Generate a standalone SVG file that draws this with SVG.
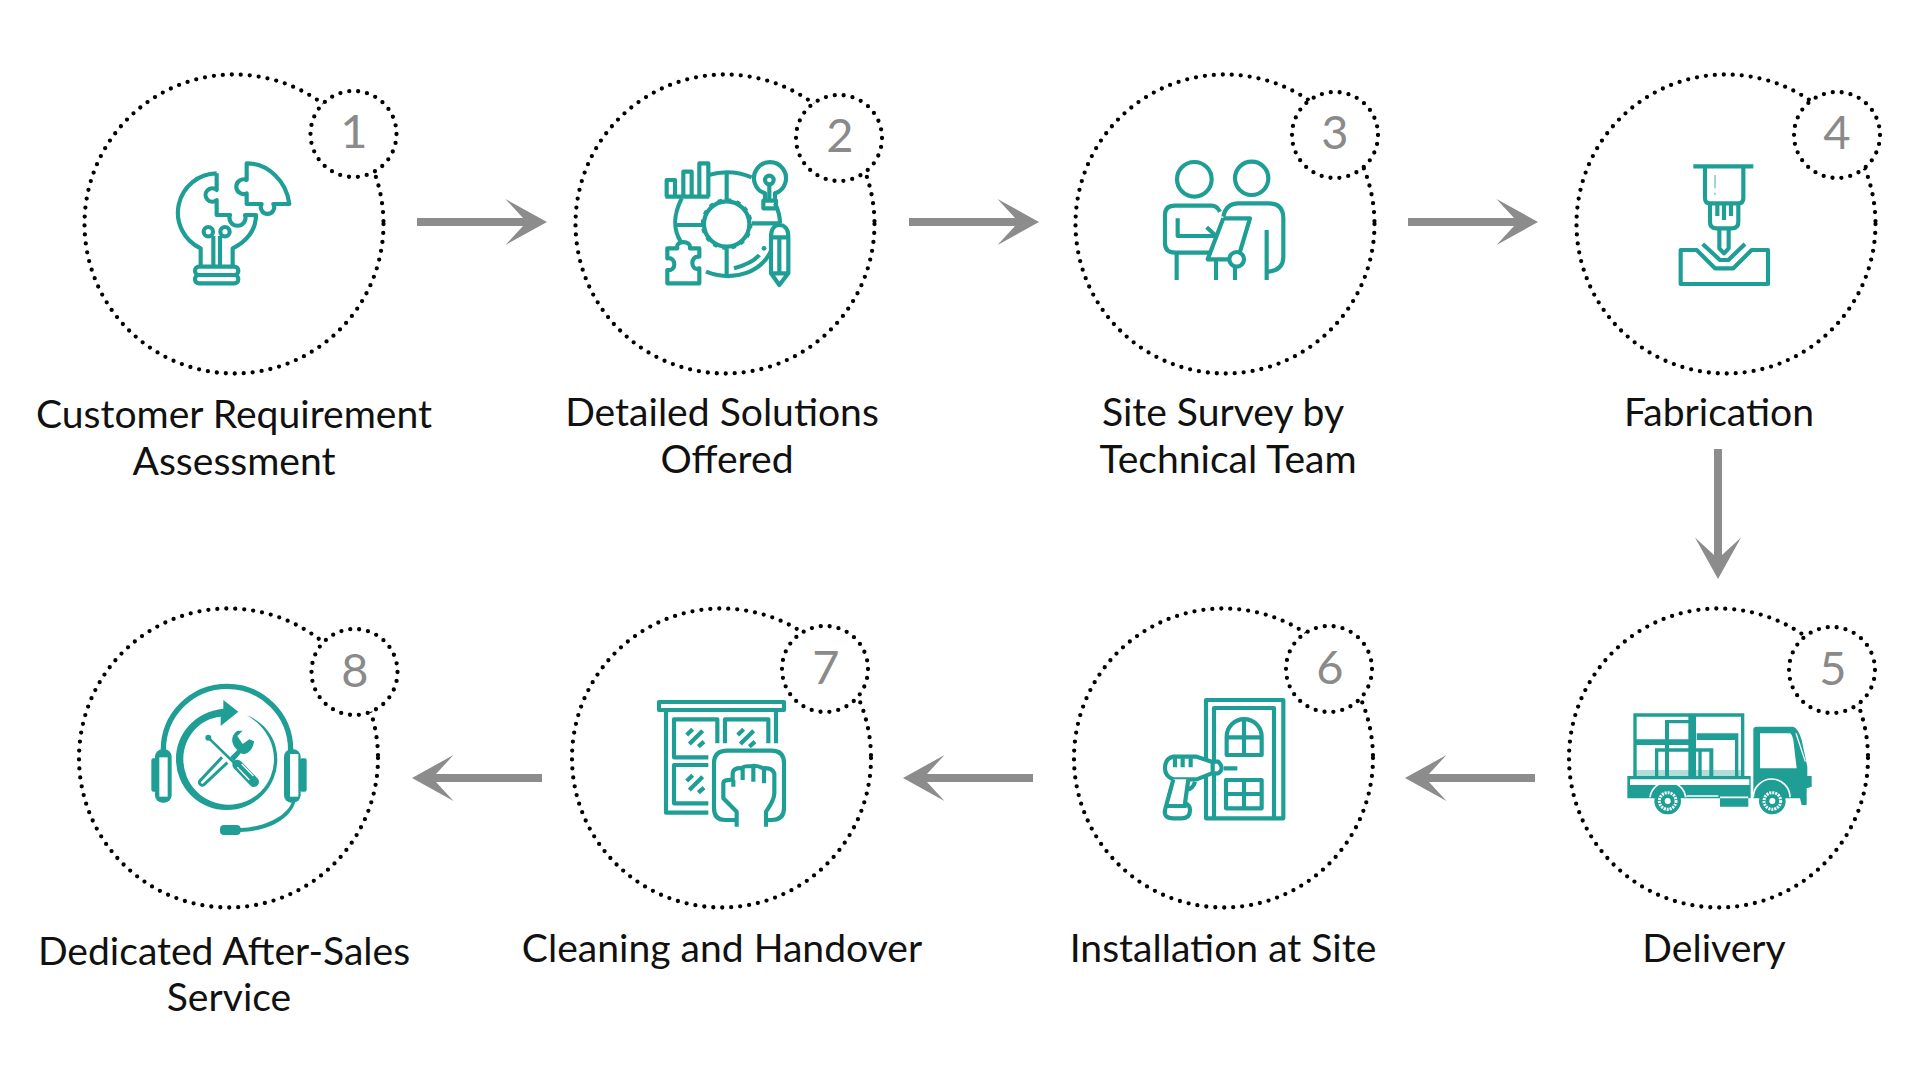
<svg xmlns="http://www.w3.org/2000/svg" width="1920" height="1080" viewBox="0 0 1920 1080">
<style>
.big{fill:none;stroke:#000;stroke-width:4.3;stroke-linecap:round;stroke-dasharray:0 9}
.small{fill:#fff;stroke:#000;stroke-width:4.3;stroke-linecap:round;stroke-dasharray:0 9}
.num{font-family:Lato,"Liberation Sans",sans-serif;font-size:47px;fill:#8a8a8a;text-anchor:middle}
.lab{font-family:Lato,"Liberation Sans",sans-serif;font-size:39.1px;fill:#111;text-anchor:middle}
.ic{fill:none;stroke:#1f9e96;stroke-width:12.5;stroke-linejoin:round;stroke-linecap:butt}
.f{fill:#1f9e96;stroke:none}
.w{fill:#fff;stroke:none}
.arrow{fill:#8c8c8c;stroke:none}
</style>
<defs>
<path id="ar" d="M0,-4H106L88.5,-23L130,0L88.5,23L106,4H0Z"/>
<g id="glint"><path d="M140,165L158,148M148,192L188,152M175,200L192,185"/></g>
</defs>
<rect width="1920" height="1080" fill="#fff"/>
<g id="connectors" class="arrow">
<use href="#ar" transform="translate(417,222)"/>
<use href="#ar" transform="translate(909,222)"/>
<use href="#ar" transform="translate(1408,222)"/>
<use href="#ar" transform="translate(1718,449) rotate(90)"/>
<use href="#ar" transform="translate(1535,778) rotate(180)"/>
<use href="#ar" transform="translate(1033,778) rotate(180)"/>
<use href="#ar" transform="translate(542,778) rotate(180)"/>
</g>
<g id="node1">
<circle class="big" cx="234" cy="224" r="149.5"/><circle class="small" cx="353.5" cy="134" r="43"/>
<text class="num" x="354" y="148">1</text>
<text class="lab" x="234" y="428">Customer Requirement</text><text class="lab" x="234" y="475">Assessment</text>
<g transform="translate(150,150) scale(.33333)" class="ic">
<path d="M200,70A118,118 0 0 0 152,295V350M248,350V295C290,275 318,240 318,195H285A24,24 0 1 1 240,195H200V150A20,20 0 1 1 200,120V70"/>
<path d="M290,40V90A22,22 0 1 0 290,130V162H335A20,20 0 1 0 370,162H418C410,95 355,40 290,40Z"/>
<rect x="135" y="350" width="130" height="25" rx="12"/><rect x="135" y="375" width="130" height="25" rx="12"/>
<path d="M190,350V258M210,350V258"/><circle cx="175" cy="245" r="14"/><circle cx="225" cy="245" r="14"/>
</g></g>
<g id="node2">
<circle class="big" cx="725" cy="224" r="149.5"/><circle class="small" cx="839" cy="138" r="43"/>
<text class="num" x="840" y="152">2</text>
<text class="lab" x="722" y="426">Detailed Solutions</text><text class="lab" x="727" y="473">Offered</text>
<g transform="translate(640,140) scale(.33333)" class="ic">
<path d="M80,170V120H105V170M130,170V95H155V170M178,170V70H205V170M76,170H208"/>
<path d="M205,105C250,92 295,95 335,112M125,175C100,225 98,265 122,305M198,395C290,430 365,390 392,335M405,190C415,210 420,230 420,250"/>
<path d="M260,100V180M110,255H190M335,250H420M260,325V410"/>
<circle cx="260" cy="252" r="68"/><circle cx="260" cy="252" r="74" stroke-width="7" stroke-dasharray="13 16"/>
<path d="M375,180V160A48,48 0 1 1 405,160V180M370,182H408V205H370ZM388,135V182"/><circle cx="388" cy="120" r="13"/>
<path d="M393,290C393,265 405,255 418,255C432,255 445,265 445,290V400L418,435L393,400ZM393,292H445M418,292V400M393,400H445"/>
<path d="M82,325H112C105,300 155,300 150,325H178V350C150,345 150,395 178,385V430H82V390C110,395 110,350 82,355Z"/>
<path d="M282,385C320,375 345,360 358,345"/><circle class="f" cx="372" cy="325" r="7"/>
</g></g>
<g id="node3">
<circle class="big" cx="1225" cy="224" r="149.5"/><circle class="small" cx="1335" cy="135" r="43"/>
<text class="num" x="1335" y="149">3</text>
<text class="lab" x="1223" y="426">Site Survey by</text><text class="lab" x="1228" y="473">Technical Team</text>
<g transform="translate(1140,140) scale(.33333)" class="ic">
<circle cx="163" cy="118" r="52"/><circle cx="335" cy="115" r="50"/>
<path d="M240,215C232,200 225,197 215,197H105Q75,197 75,225V310Q75,338 105,338H215M113,235V288H225M200,262L225,285"/>
<path d="M250,235H330L300,335M270,358H203L250,235"/><circle cx="290" cy="358" r="22"/>
<path d="M250,230C255,205 270,190 295,190H385Q430,190 430,235V350Q430,390 385,395M380,270V420M110,340V420M228,360V420M285,380V420"/>
</g></g>
<g id="node4">
<circle class="big" cx="1726" cy="224" r="149.5"/><circle class="small" cx="1837" cy="135" r="43"/>
<text class="num" x="1837" y="149">4</text>
<text class="lab" x="1719" y="426">Fabrication</text>
<g transform="translate(1650,140) scale(.33333)" class="ic">
<path d="M130,79H310" stroke-width="13"/>
<path d="M165,80V175Q165,190 180,190H265Q280,190 280,175V80M180,190V245Q180,265 200,265H245Q265,265 265,245V190M202,190V228M222,190V240M243,190V228M208,265V325L222,340L236,325V265"/>
<path d="M195,105V145M195,158V165" stroke-width="5" opacity=".5"/>
<path d="M92,330V432H354V330H305L250,385H195L140,330ZM158,312L210,360H235L285,312"/>
</g></g>
<g id="node5">
<circle class="big" cx="1718.5" cy="758" r="149.5"/><circle class="small" cx="1832" cy="670" r="43"/>
<text class="num" x="1833" y="685">5</text>
<text class="lab" x="1714" y="962">Delivery</text>
<g transform="translate(1620,690) scale(.33333)">
<g class="f">
<path d="M40,70H373V258H363V80H50V258H40ZM205,70H228V258H205ZM40,148H205V165H40ZM135,90H228V100H147V258H135ZM230,130H355V150H230ZM345,130H355V258H345ZM105,175H280V185H115V258H105ZM268,175H280V258H268ZM235,175H245V258H235Z"/>
<path d="M40,240H373V258H40Z" opacity=".35"/>
<path d="M22,258H392V325H22ZM300,300H385V350H300Z"/>
<path d="M400,325V120Q400,110 410,110H520Q535,115 545,150L562,230V258H575V290L560,295V345H545L540,325Z"/>
</g>
<path class="w" d="M420,130H510Q515,130 520,150L530,235H420ZM30,268H388V285H30Z"/>
<path d="M528,130L556,215" stroke="#fff" stroke-width="4" fill="none"/><path d="M395,210V290" stroke="#fff" stroke-width="4" fill="none"/>
<path d="M90,322A54,54 0 0 1 197,322M400,322A54,54 0 0 1 510,322M200,318H295M300,322H385" stroke="#fff" stroke-width="5" fill="none"/>
<g fill="#1f9e96"><circle cx="143" cy="333" r="40"/><circle cx="457" cy="333" r="40"/></g>
<g fill="none" stroke="#fff" stroke-width="9" stroke-dasharray="6 3"><circle cx="143" cy="333" r="25"/><circle cx="457" cy="333" r="25"/></g>
<g fill="#fff"><circle cx="143" cy="333" r="9"/><circle cx="457" cy="333" r="9"/></g>
</g></g>
<g id="node6">
<circle class="big" cx="1223.5" cy="758" r="149.5"/><circle class="small" cx="1329" cy="669" r="43"/>
<text class="num" x="1330" y="684">6</text>
<text class="lab" x="1223" y="962">Installation at Site</text>
<g transform="translate(1150,680) scale(.33333)" class="ic">
<path d="M168,415V60H400V415ZM192,415V84H372V415"/>
<path d="M230,225V170A52,52 0 0 1 335,170V225ZM282,118V225M230,172H335M228,300H335V385H228ZM282,300V385M228,342H335"/>
<path fill="#fff" d="M70,230H140L185,245H205Q225,265 205,280H185L140,298H70Q45,290 45,265Q45,235 70,230Z"/>
<path d="M75,235V262M98,235V262M122,235V262M222,265H262M188,248V280"/>
<path fill="#fff" d="M70,298L45,390Q40,415 70,415H95Q120,415 120,390Q120,375 105,370L115,298M135,305Q130,325 110,330M45,378H110"/>
</g></g>
<g id="node7">
<circle class="big" cx="721.5" cy="758" r="149.5"/><circle class="small" cx="825" cy="669" r="43"/>
<text class="num" x="826" y="684">7</text>
<text class="lab" x="722" y="962">Cleaning and Handover</text>
<g transform="translate(640,680) scale(.33333)" class="ic">
<path d="M57,66H432V90H57Z"/><path d="M78,90V398H205M408,90V190M232,190V118H102V232H205M255,190V118H385V190M205,255H102V370H205"/>
<use href="#glint"/><use href="#glint" x="153"/><use href="#glint" y="138"/>
<path d="M290,420H255Q222,420 222,385V250Q222,212 262,212H395Q432,212 432,250V385Q432,420 395,420H378"/>
<path d="M290,440V395L250,355V310Q250,298 278,300V280Q280,262 305,265Q310,258 335,258Q350,255 370,265Q395,262 403,280V340Q403,360 378,395V440M280,300V320M308,265V300M340,260V305M372,268V310"/>
</g></g>
<g id="node8">
<circle class="big" cx="228.5" cy="758" r="149.5"/><circle class="small" cx="354.5" cy="672" r="43"/>
<text class="num" x="355" y="687">8</text>
<text class="lab" x="224" y="965">Dedicated After-Sales</text><text class="lab" x="229" y="1011">Service</text>
<g transform="translate(130,670) scale(.33333)">
<path d="M100,240A191,191 0 0 1 482,240" fill="none" stroke="#1f9e96" stroke-width="16"/>
<g class="f">
<rect x="75" y="238" width="50" height="160" rx="22"/><rect x="64" y="265" width="20" height="100" rx="6"/>
<rect x="462" y="238" width="50" height="160" rx="22"/><rect x="510" y="265" width="20" height="100" rx="6"/>
<path d="M486,395C470,440 400,472 330,474V486C410,484 480,450 496,395Z"/>
<rect x="270" y="465" width="62" height="30" rx="12"/>
<path d="M350,135C410,160 442,210 442,268A152,152 0 0 1 138,268C138,190 195,125 280,116V90L325,125L272,168V140C210,145 160,200 160,268A130,130 0 0 0 432,268C432,210 400,165 350,135Z"/>
<path d="M300,262L322,240C305,225 298,200 322,182L338,182L322,198L338,222L358,208L372,214C370,240 350,258 332,250L312,274Z"/>
</g>
<path d="M238,206L318,284" stroke="#1f9e96" stroke-width="8" fill="none"/><circle class="f" cx="235" cy="203" r="9"/>
<path d="M276,262L212,330A8,8 0 0 0 222,344L292,278" fill="#fff" stroke="#1f9e96" stroke-width="9"/>
<path d="M322,284L372,336" stroke="#1f9e96" stroke-width="30" stroke-linecap="round"/>
<path d="M322,292L358,330M335,282L370,318" stroke="#fff" stroke-width="4"/>
<rect x="88" y="262" width="25" height="118" class="w"/><rect x="480" y="252" width="25" height="128" class="w"/>
</g></g>
</svg>
